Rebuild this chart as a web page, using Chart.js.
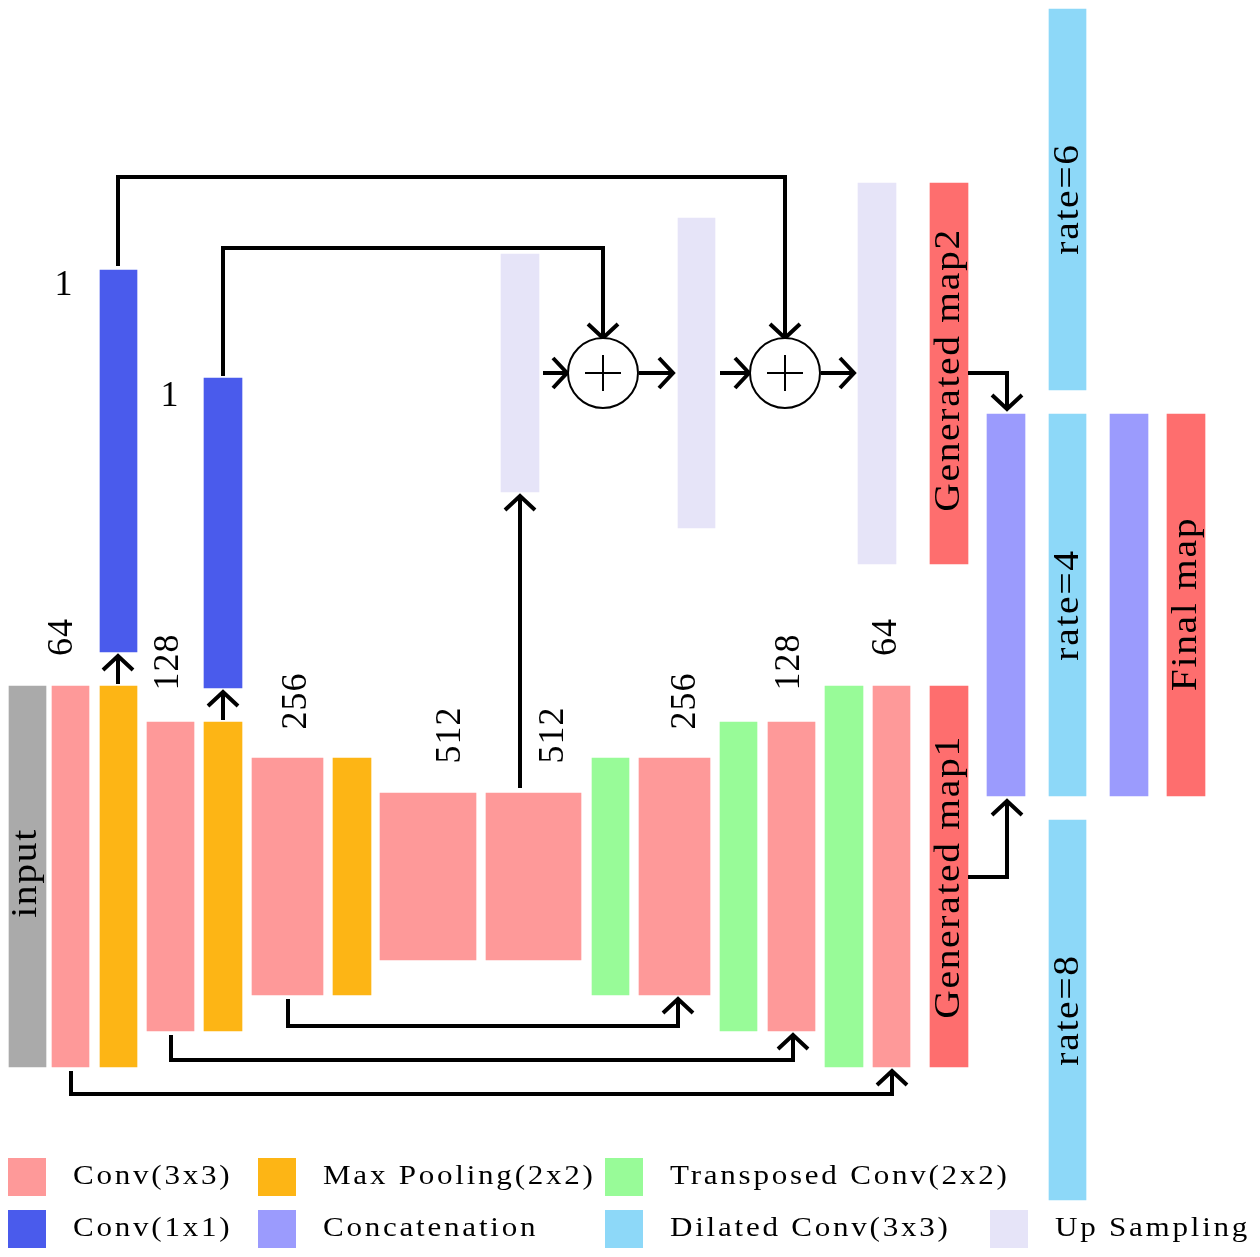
<!DOCTYPE html>
<html>
<head>
<meta charset="utf-8">
<script src="https://cdn.jsdelivr.net/npm/chart.js@4"></script>
<style>
	body { margin: 0; background: #ffffff; }
	#wrap { width: 1260px; height: 1257px; position: relative; }
</style>
</head>
<body>
<div id="wrap"><canvas id="netChart"></canvas></div>
<script>
"use strict";

// blocks: [left, right, top, bottom] in picture units
var inputBlocks = [[9, 46, 686, 1067]];
var conv3Blocks = [[52, 89, 686, 1067], [147, 194, 722, 1031], [252, 323, 758, 995], [380, 476, 793, 960],
	[486, 581, 793, 960], [639, 710, 758, 995], [768, 815, 722, 1031], [873, 910, 686, 1067]];
var poolBlocks = [[100, 137, 686, 1067], [204, 242, 722, 1031], [333, 371, 758, 995]];
var conv1Blocks = [[100, 137, 270, 652], [204, 242, 378, 688]];
var transBlocks = [[592, 629, 758, 995], [720, 757, 722, 1031], [825, 863, 686, 1067]];
var upBlocks = [[501, 539, 254, 492], [678, 715, 218, 528], [858, 896, 183, 564]];
var mapBlocks = [[930, 968, 183, 564], [930, 968, 686, 1067], [1167, 1205, 414, 796]];
var concatBlocks = [[987, 1025, 414, 796], [1110, 1148, 414, 796]];
var dilatedBlocks = [[1049, 1086, 9, 390], [1049, 1086, 414, 796], [1049, 1086, 820, 1200]];

// connections, the last point is the arrow tip
var arrowPaths = [
	[[118, 266], [118, 177], [785, 177], [785, 338]],
	[[223, 376], [223, 248], [603, 248], [603, 338]],
	[[118, 684], [118, 656]],
	[[223, 720], [223, 692]],
	[[520, 788], [520, 496]],
	[[543, 373], [567, 373]],
	[[639, 373], [673, 373]],
	[[720, 373], [749, 373]],
	[[821, 373], [854, 373]],
	[[968, 373], [1007, 373], [1007, 409]],
	[[968, 877], [1007, 877], [1007, 801]],
	[[288, 999], [288, 1026], [678, 1026], [678, 999]],
	[[171, 1035], [171, 1060], [793, 1060], [793, 1035]],
	[[71, 1071], [71, 1094], [892, 1094], [892, 1071]]
];

// element-wise sum nodes
var sumNodes = [[603, 373], [785, 373]];

// text on the diagram: [text, x, y, vertical]
var diagramLabels = [
	["input", 27, 873, true],
	["64", 63, 637, true],
	["128", 169, 662, true],
	["256", 297, 701, true],
	["512", 451, 735, true],
	["512", 554, 735, true],
	["256", 686, 701, true],
	["128", 790, 662, true],
	["64", 887, 637, true],
	["1", 64, 286, false],
	["1", 170, 397, false],
	["Generated map1", 950, 877, true],
	["Generated map2", 950, 370, true],
	["rate=6", 1069, 199, true],
	["rate=4", 1069, 605, true],
	["rate=8", 1069, 1010, true],
	["Final map", 1187, 604, true]
];

var legendNames = ["Conv(3x3)", "Max Pooling(2x2)", "Transposed Conv(2x2)",
	"Conv(1x1)", "Concatenation", "Dilated Conv(3x3)", "Up Sampling"];

var colors = {
	input: "#aaaaaa",
	conv3: "#fe9999",
	pool: "#fdb515",
	conv1: "#4a5bec",
	trans: "#98fb98",
	up: "#e6e4f8",
	map: "#fe6e6e",
	concat: "#9b9bfd",
	dilated: "#8dd8f8"
};

var legendColors = [colors.conv3, colors.pool, colors.trans,
	colors.conv1, colors.concat, colors.dilated, colors.up];

var labelFont = "36px 'Liberation Serif', serif";
var legendFont = "27px 'Liberation Serif', serif";


function blockDatasets(blocks, color) {
	return blocks.map(function (b) {
		return {
			type: "bar",
			data: [{ x: (b[0] + b[1]) / 2, y: [b[2], b[3]] }],
			backgroundColor: color,
			borderWidth: 0,
			barThickness: b[1] - b[0],
			grouped: false,
			order: 3
		};
	});
}

function pathDataset(points) {
	return {
		type: "line",
		data: points.map(function (p) { return { x: p[0], y: p[1] }; }),
		borderColor: "#000000",
		borderWidth: 4,
		borderJoinStyle: "miter",
		borderCapStyle: "butt",
		pointRadius: 0,
		fill: false,
		tension: 0,
		order: 2
	};
}

function arrowHead(points) {
	var tip = points[points.length - 1];
	var prev = points[points.length - 2];
	var dx = Math.sign(tip[0] - prev[0]);
	var dy = Math.sign(tip[1] - prev[1]);
	var depth = 14, half = 15;
	var bx = tip[0] - dx * depth, by = tip[1] - dy * depth;
	return [[bx + dy * half, by + dx * half], tip, [bx - dy * half, by - dx * half]];
}

function buildDatasets() {
	var sets = [];
	sets = sets.concat(blockDatasets(inputBlocks, colors.input));
	sets = sets.concat(blockDatasets(conv3Blocks, colors.conv3));
	sets = sets.concat(blockDatasets(poolBlocks, colors.pool));
	sets = sets.concat(blockDatasets(conv1Blocks, colors.conv1));
	sets = sets.concat(blockDatasets(transBlocks, colors.trans));
	sets = sets.concat(blockDatasets(upBlocks, colors.up));
	sets = sets.concat(blockDatasets(mapBlocks, colors.map));
	sets = sets.concat(blockDatasets(concatBlocks, colors.concat));
	sets = sets.concat(blockDatasets(dilatedBlocks, colors.dilated));

	arrowPaths.forEach(function (p) {
		sets.push(pathDataset(p));
		sets.push(pathDataset(arrowHead(p)));
	});

	var nodePoints = sumNodes.map(function (n) { return { x: n[0], y: n[1] }; });
	sets.push({
		type: "scatter",
		data: nodePoints,
		pointStyle: "circle",
		pointRadius: 35,
		pointBackgroundColor: "#ffffff",
		pointBorderColor: "#000000",
		pointBorderWidth: 2,
		order: 1
	});
	sets.push({
		type: "scatter",
		data: nodePoints,
		pointStyle: "cross",
		pointRadius: 18,
		pointBorderColor: "#000000",
		pointBorderWidth: 2,
		order: 0
	});
	return sets;
}

// draws text a bit wider than the font, closer to the LaTeX look
function wideText(ctx, text, x, y, rotate, stretch, spacing) {
	ctx.save();
	ctx.translate(x, y);
	if (rotate) ctx.rotate(-Math.PI / 2);
	ctx.scale(stretch, 1);
	ctx.letterSpacing = spacing + "px";
	ctx.fillText(text, 0, 0);
	ctx.restore();
}

var textPlugin = {
	id: "diagramText",
	afterDatasetsDraw: function (chart) {
		var ctx = chart.ctx;
		var xs = chart.scales.x, ys = chart.scales.y;
		ctx.save();
		ctx.fillStyle = "#000000";
		ctx.font = labelFont;
		ctx.textAlign = "center";
		ctx.textBaseline = "middle";
		diagramLabels.forEach(function (l) {
			var px = xs.getPixelForValue(l[1]);
			var py = ys.getPixelForValue(l[2]);
			var isWord = /[a-z]/.test(l[0]);
			wideText(ctx, l[0], px, py, l[3], isWord ? 1.1 : 1.0, isWord ? 1.5 : 1);
		});

		// legend grid
		var colLeft = [8, 258, 605, 990];
		var rowTop = [1158, 1210];
		var perRow = [3, 4];
		var k = 0;
		ctx.font = legendFont;
		ctx.textAlign = "left";
		for (var r = 0; r < 2; r++) {
			for (var c = 0; c < perRow[r]; c++) {
				ctx.fillStyle = legendColors[k];
				ctx.fillRect(colLeft[c], rowTop[r], 38, 38);
				ctx.fillStyle = "#000000";
				wideText(ctx, legendNames[k], colLeft[c] + 65, rowTop[r] + 19, false, 1.15, 2.4);
				k++;
			}
		}
		ctx.restore();
	}
};

var chart = new Chart(document.getElementById("netChart").getContext("2d"), {
	type: "bar",
	data: { datasets: buildDatasets() },
	options: {
		responsive: true,
		maintainAspectRatio: false,
		animation: false,
		layout: { padding: 0, autoPadding: false },
		plugins: {
			legend: { display: false },
			tooltip: { enabled: false }
		},
		scales: {
			x: { type: "linear", min: 0, max: 1260, offset: false, display: false },
			y: { type: "linear", min: 0, max: 1257, reverse: true, stacked: false, display: false }
		}
	},
	plugins: [textPlugin]
});
</script>
</body>
</html>
